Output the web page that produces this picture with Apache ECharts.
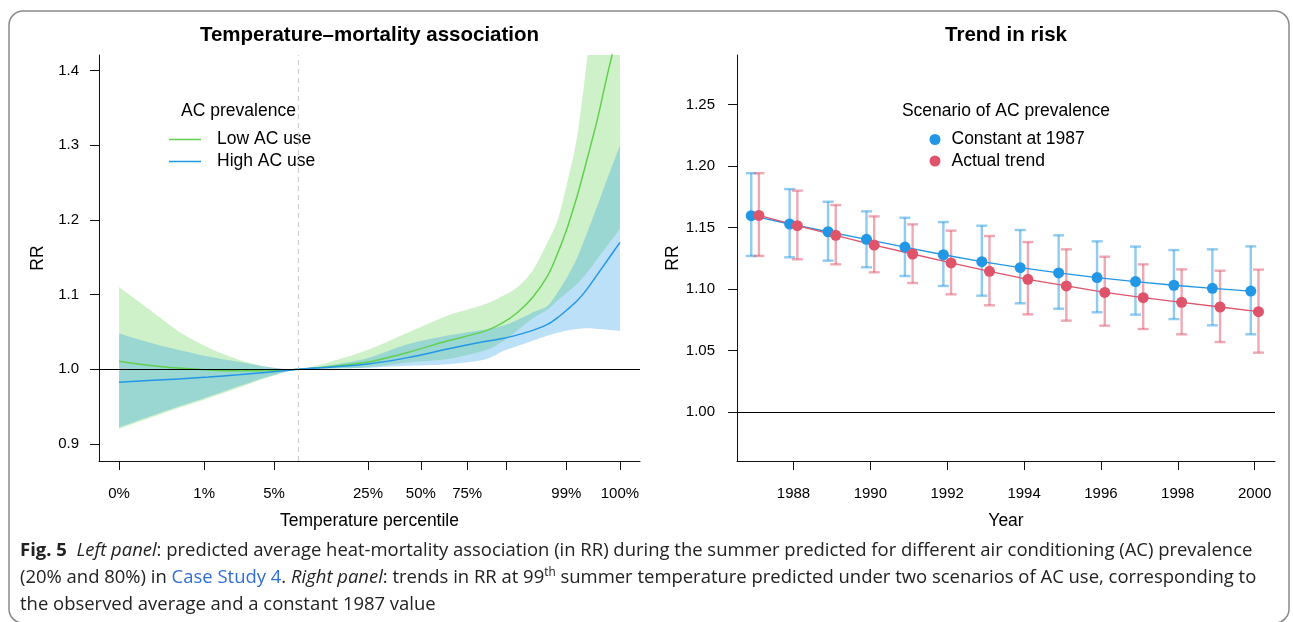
<!DOCTYPE html>
<html><head><meta charset="utf-8">
<script src="https://cdn.jsdelivr.net/npm/echarts@6/dist/echarts.min.js"></script>
<style>html,body{margin:0;padding:0;background:#fff}#c{width:1293px;height:622px}</style>
</head><body><div id="c"></div>
<script>
// ---------- Left panel: temperature–mortality association ----------
const temps   = [13.0,14.17,15.37,16.56,17.76,18.95,20.16,21.54,22.94,24.53,26.12,27.60,28.31,28.91,29.51,30.11,30.51,30.90,31.30,31.70,32.10,32.50,33.0];
const lowRR   = [1.0107,1.0053,1.0015,0.9990,0.9978,0.9982,1.0,1.004,1.0095,1.0225,1.038,1.051,1.062,1.076,1.096,1.125,1.155,1.190,1.233,1.283,1.335,1.395,1.465];
const lowLo   = [0.920,0.934,0.948,0.961,0.975,0.989,1.0,1.001,1.0025,1.009,1.0137,1.025,1.037,1.052,1.068,1.080,1.092,1.103,1.115,1.130,1.148,1.166,1.188];
const lowHi   = [1.110,1.081,1.051,1.029,1.013,1.003,1.0,1.011,1.026,1.049,1.0718,1.087,1.098,1.110,1.132,1.170,1.200,1.251,1.314,1.42,1.55,1.68,1.85];
const highRR  = [0.9826,0.9848,0.9870,0.9895,0.9925,0.9960,1.0,1.003,1.007,1.0155,1.027,1.037,1.041,1.046,1.052,1.060,1.069,1.080,1.092,1.108,1.127,1.146,1.170];
const highLo  = [0.922,0.936,0.950,0.963,0.977,0.990,1.0,1.001,1.002,1.0045,1.0067,1.013,1.024,1.031,1.038,1.045,1.049,1.052,1.054,1.055,1.054,1.053,1.051];
const highHi  = [1.048,1.036,1.026,1.017,1.010,1.003,1.0,1.006,1.015,1.0335,1.045,1.053,1.058,1.066,1.076,1.085,1.103,1.124,1.150,1.184,1.219,1.256,1.30];
const mmt     = 20.16;
const pctTemps  = [13.0,16.40,19.19,22.94,25.05,26.90,28.45,30.86,33.0];
const pctLabels = ['0%','1%','5%','25%','50%','75%','','99%','100%'];
const leftYTicks = [0.9,1.0,1.1,1.2,1.3,1.4];

// ---------- Right panel: trend in risk ----------
const years     = [1987,1988,1989,1990,1991,1992,1993,1994,1995,1996,1997,1998,1999,2000];
const constRR   = [1.1598,1.1530,1.1467,1.1405,1.1342,1.1280,1.1224,1.1175,1.1132,1.1094,1.1062,1.1032,1.1007,1.0985];
const constLo   = [1.127,1.1259,1.1232,1.1178,1.1107,1.1026,1.0947,1.0885,1.0841,1.0812,1.0793,1.0757,1.0706,1.0633];
const constHi   = [1.1943,1.1814,1.1711,1.1633,1.1581,1.1546,1.1516,1.1481,1.1438,1.1389,1.1346,1.1318,1.1324,1.1348];
const actualRR  = [1.1600,1.1516,1.1438,1.1359,1.1286,1.1213,1.1145,1.1080,1.1026,1.0974,1.0931,1.0893,1.0855,1.0817];
const actualLo  = [1.127,1.1243,1.1202,1.1137,1.1050,1.0958,1.0869,1.0795,1.0744,1.0703,1.0676,1.0633,1.0570,1.0484];
const actualHi  = [1.1943,1.1801,1.1684,1.1592,1.1527,1.1476,1.1432,1.1383,1.1324,1.1264,1.1202,1.1161,1.1150,1.1159];
const yearTicks = [1988,1990,1992,1994,1996,1998,2000];
const rightYTicks = [1.00,1.05,1.10,1.15,1.20,1.25];

// ---------- styling ----------
const FONT = '"Liberation Sans", Arial, sans-serif';
const GREEN = '#61D04F', BLUE = '#2297E6', RED = '#DF536B';
const AX = '#111';
const dodge = 0.1;
const SMOOTH = 0.3;

const pairs = (xs, ys) => xs.map((x, i) => [x, ys[i]]);

function valueAxisCommon(){
  return {
    type:'value', scale:true,
    axisLine:{show:true, onZero:false, lineStyle:{color:AX, width:1}},
    splitLine:{show:false},
    nameLocation:'middle',
    nameTextStyle:{fontFamily:FONT, fontSize:17.5, color:'#000'}
  };
}
const lbl = {fontFamily:FONT, fontSize:15, color:'#000'};

// smooth a pixel polyline (cardinal-style bezier, same spirit as line 'smooth')
function smoothPts(pts){
  const out = [pts[0]];
  const k = SMOOTH / 2;
  for (let i = 0; i < pts.length - 1; i++){
    const p0 = pts[Math.max(0, i-1)], p1 = pts[i], p2 = pts[i+1], p3 = pts[Math.min(pts.length-1, i+2)];
    const c1 = [p1[0] + (p2[0]-p0[0])*k, p1[1] + (p2[1]-p0[1])*k];
    const c2 = [p2[0] - (p3[0]-p1[0])*k, p2[1] - (p3[1]-p1[1])*k];
    for (let s = 1; s <= 10; s++){
      const t = s/10, u = 1-t;
      out.push([
        u*u*u*p1[0] + 3*u*u*t*c1[0] + 3*u*t*t*c2[0] + t*t*t*p2[0],
        u*u*u*p1[1] + 3*u*u*t*c1[1] + 3*u*t*t*c2[1] + t*t*t*p2[1]
      ]);
    }
  }
  return out;
}

function bandSeries(xs, lo, hi, color){
  return {
    type:'custom', xAxisIndex:0, yAxisIndex:0, silent:true, clip:true,
    data: xs.map((x,i)=>[x, lo[i], hi[i]]),
    encode:{x:0, y:[1,2]},
    renderItem:(params, api)=>{
      if (params.dataIndex !== 0) return null;
      const cs = params.coordSys;
      const cy = y => Math.max(cs.y, Math.min(cs.y + cs.height, y));
      const up = smoothPts(xs.map((x,i)=>api.coord([x, hi[i]]))).map(p=>[p[0], cy(p[1])]);
      const dn = smoothPts(xs.map((x,i)=>api.coord([x, lo[i]]))).map(p=>[p[0], cy(p[1])]);
      return {type:'polygon', shape:{points: up.concat(dn.reverse())}, style:{fill:color, stroke:null}};
    }
  };
}

function errbarSeries(xs, lo, hi, color){
  return {
    type:'custom', xAxisIndex:1, yAxisIndex:1, silent:true,
    data: xs.map((x,i)=>[x, lo[i], hi[i]]),
    encode:{x:0, y:[1,2]},
    renderItem:(params, api)=>{
      const x = api.value(0);
      const pLo = api.coord([x, api.value(1)]);
      const pHi = api.coord([x, api.value(2)]);
      const w = 5.5;
      const st = {stroke:color, lineWidth:2.4, fill:null};
      return {type:'group', children:[
        {type:'line', shape:{x1:pLo[0], y1:pLo[1], x2:pHi[0], y2:pHi[1]}, style:st},
        {type:'line', shape:{x1:pHi[0]-w, y1:pHi[1], x2:pHi[0]+w, y2:pHi[1]}, style:st},
        {type:'line', shape:{x1:pLo[0]-w, y1:pLo[1], x2:pLo[0]+w, y2:pLo[1]}, style:st}
      ]};
    }
  };
}

const chart = echarts.init(document.getElementById('c'), null, {renderer:'canvas'});

// caption font fitted to the reference line width
const capFam = '"Liberation Sans Narrow", "Open Sans", sans-serif';
const line1plain = 'Fig. 5  Left panel: predicted average heat-mortality association (in RR) during the summer predicted for different air conditioning (AC) prevalence';
const cv = document.createElement('canvas').getContext('2d');
cv.font = '100px ' + capFam;
const capSize = Math.min(19, 100 * 1236 / cv.measureText(line1plain).width);
const capFont = capSize.toFixed(2) + 'px ' + capFam;
const capRich = {
  n:{font:capFont},
  b:{font:'bold ' + capFont},
  i:{font:'italic ' + capFont},
  l:{font:capFont, fill:'#2f6fd3'},
  sup:{font:(capSize*0.64).toFixed(2) + 'px ' + capFam, padding:[0,0,11,0], verticalAlign:'bottom'}
};
const lineIcon = 'path://M0,0h0.05v0.05H0zM31.95,13.95h0.05v0.05h-0.05zM0,6.2h32v1.6H0z';

const option = {
  animation:false,
  backgroundColor:'#fff',
  grid:[
    {left:99, top:55, width:541, height:406, containLabel:false, outerBoundsMode:'none'},
    {left:737, top:55, width:538, height:406, containLabel:false, outerBoundsMode:'none'}
  ],
  xAxis:[
    Object.assign(valueAxisCommon(), {
      gridIndex:0, min:12.2, max:33.8,
      axisTick:{show:true, length:9, lineStyle:{color:AX}, customValues:pctTemps},
      axisLabel:Object.assign({}, lbl, {margin:25,
        customValues:pctTemps.filter((t,i)=>pctLabels[i] !== ''),
        formatter:(v)=>{ const i = pctTemps.findIndex(t=>Math.abs(t-v)<1e-6); return i>=0 ? pctLabels[i] : ''; }}),
      name:'Temperature percentile', nameGap:51
    }),
    Object.assign(valueAxisCommon(), {
      gridIndex:1, min:1986.53, max:2000.53,
      axisTick:{show:true, length:9, lineStyle:{color:AX}, customValues:yearTicks},
      axisLabel:Object.assign({}, lbl, {margin:25, customValues:yearTicks, formatter:(v)=>String(Math.round(v))}),
      name:'Year', nameGap:51
    })
  ],
  yAxis:[
    Object.assign(valueAxisCommon(), {
      gridIndex:0, min:0.877, max:1.421,
      axisTick:{show:true, length:9, lineStyle:{color:AX}, customValues:leftYTicks},
      axisLabel:Object.assign({}, lbl, {margin:20, customValues:leftYTicks, formatter:(v)=>v.toFixed(1)}),
      name:'RR', nameGap:52, nameRotate:90
    }),
    Object.assign(valueAxisCommon(), {
      gridIndex:1, min:0.9603, max:1.2904,
      axisTick:{show:true, length:9, lineStyle:{color:AX}, customValues:rightYTicks},
      axisLabel:Object.assign({}, lbl, {margin:22, customValues:rightYTicks, formatter:(v)=>v.toFixed(2)}),
      name:'RR', nameGap:55, nameRotate:90
    })
  ],
  legend:[
    {data:[{name:'Low AC use', icon:lineIcon},{name:'High AC use', icon:lineIcon}],
     orient:'vertical', left:169, top:130.5, padding:0,
     itemWidth:32, itemHeight:14, itemGap:4, selectedMode:false,
     textStyle:{fontFamily:FONT, fontSize:17.5, color:'#000', padding:[0,0,0,11]}},
    {data:[{name:'Constant at 1987', icon:'circle'},{name:'Actual trend', icon:'circle'}],
     orient:'vertical', left:929.5, top:130.5, padding:0,
     itemWidth:11, itemHeight:11, itemGap:3.5, selectedMode:false,
     textStyle:{fontFamily:FONT, fontSize:17.5, color:'#000', padding:[0,0,0,6]}}
  ],
  series:[
    bandSeries(temps, lowLo, lowHi, 'rgba(97,208,79,0.3)'),
    bandSeries(temps, highLo, highHi, 'rgba(34,151,230,0.3)'),
    {type:'line', name:'Low AC use', xAxisIndex:0, yAxisIndex:0, data:pairs(temps, lowRR),
     symbol:'none', smooth:SMOOTH, color:GREEN, lineStyle:{color:GREEN, width:1.5},
     markLine:{silent:true, symbol:'none', label:{show:false},
       data:[{xAxis:mmt, lineStyle:{type:[5,4], color:'#cfcfcf', width:1.2}},
             {yAxis:1, lineStyle:{type:'solid', color:'#000', width:1.2}}]}},
    {type:'line', name:'High AC use', xAxisIndex:0, yAxisIndex:0, data:pairs(temps, highRR),
     symbol:'none', smooth:SMOOTH, color:BLUE, lineStyle:{color:BLUE, width:1.5}},

    errbarSeries(years.map(y=>y-dodge), constLo, constHi, 'rgba(34,151,230,0.5)'),
    errbarSeries(years.map(y=>y+dodge), actualLo, actualHi, 'rgba(223,83,107,0.5)'),
    {type:'line', name:'Constant at 1987', xAxisIndex:1, yAxisIndex:1,
     data:pairs(years.map(y=>y-dodge), constRR), symbol:'circle', symbolSize:11, color:BLUE,
     itemStyle:{color:BLUE}, lineStyle:{color:BLUE, width:1.3},
     markLine:{silent:true, symbol:'none', label:{show:false},
       data:[{yAxis:1, lineStyle:{type:'solid', color:'#000', width:1.2}}]}},
    {type:'line', name:'Actual trend', xAxisIndex:1, yAxisIndex:1,
     data:pairs(years.map(y=>y+dodge), actualRR), symbol:'circle', symbolSize:11, color:RED,
     itemStyle:{color:RED}, lineStyle:{color:RED, width:1.3}}
  ],
  graphic:[
    {type:'rect', silent:true, shape:{x:9, y:11, width:1280, height:612, r:14},
     style:{fill:'none', stroke:'#8a8a8a', lineWidth:1.5}},
    {type:'text', x:369.5, y:35, silent:true,
     style:{text:'Temperature–mortality association', font:'bold 20.5px ' + FONT, fill:'#000', textAlign:'center', textVerticalAlign:'middle'}},
    {type:'text', x:1006, y:35, silent:true,
     style:{text:'Trend in risk', font:'bold 20.5px ' + FONT, fill:'#000', textAlign:'center', textVerticalAlign:'middle'}},
    {type:'text', x:238.5, y:111.5, silent:true,
     style:{text:'AC prevalence', font:'17.5px ' + FONT, fill:'#000', textAlign:'center', textVerticalAlign:'middle'}},
    {type:'text', x:1006, y:111, silent:true,
     style:{text:'Scenario of AC prevalence', font:'17.5px ' + FONT, fill:'#000', textAlign:'center', textVerticalAlign:'middle'}},
    {type:'text', x:20, y:551, silent:true,
     style:{text:'{b|Fig. 5}{n|  }{i|Left panel}{n|: predicted average heat-mortality association (in RR) during the summer predicted for different air conditioning (AC) prevalence}',
       font:capFont, fill:'#222', rich:capRich, textVerticalAlign:'middle'}},
    {type:'text', x:20, y:578, silent:true,
     style:{text:'{n|(20% and 80%) in }{l|Case Study 4}{n|. }{i|Right panel}{n|: trends in RR at 99}{sup|th}{n| summer temperature predicted under two scenarios of AC use, corresponding to}',
       font:capFont, fill:'#222', rich:capRich, textVerticalAlign:'middle'}},
    {type:'text', x:20, y:605, silent:true,
     style:{text:'the observed average and a constant 1987 value',
       font:capFont, fill:'#222', textVerticalAlign:'middle'}}
  ]
};
chart.setOption(option);
</script>
</body></html>
